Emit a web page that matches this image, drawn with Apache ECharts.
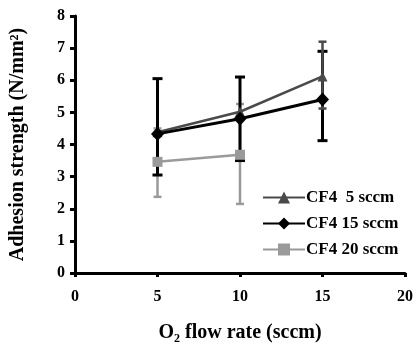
<!DOCTYPE html>
<html>
<head>
<meta charset="utf-8">
<script src="https://cdn.jsdelivr.net/npm/echarts@6/dist/echarts.min.js"></script>
<style>
  html, body { margin: 0; padding: 0; background: #fff; }
  #chart { width: 416px; height: 349px; }
</style>
</head>
<body>
<div id="chart"></div>
<script>
// O2 flow rate (sccm)
const flowRates = [5, 10, 15];
const xTicks = [0, 5, 10, 15, 20];
const yTicks = [0, 1, 2, 3, 4, 5, 6, 7, 8];

// Adhesion strength (N/mm^2) with error bar limits
const seriesNames = ['CF4  5 sccm', 'CF4 15 sccm', 'CF4 20 sccm'];
const cf4_5 = [4.38, 5.02, 6.12];
const cf4_5Low = [null, null, 5.12];
const cf4_5High = [null, null, 7.2];
const cf4_15 = [4.33, 4.8, 5.4];
const cf4_15Low = [3.05, 3.5, 4.12];
const cf4_15High = [6.05, 6.1, 6.9];
const cf4_20 = [3.46, 3.68];
const cf4_20Low = [2.37, 2.15];
const cf4_20High = [4.5, 5.26];

const colors = ['#4a4a4a', '#000000', '#9a9a9a'];
const font = '"Liberation Serif", "Times New Roman", serif';

function pairs(vals) {
  return vals.map((v, i) => [flowRates[i], v]);
}
function errData(low, high) {
  const out = [];
  low.forEach((l, i) => {
    if (l != null && high[i] != null) out.push([flowRates[i], l, high[i]]);
  });
  return out;
}
function errorSeries(low, high, color, width, capHalf, z) {
  return {
    type: 'custom',
    data: errData(low, high),
    z: z,
    silent: true,
    renderItem: function (params, api) {
      const x = api.value(0);
      const lo = api.coord([x, api.value(1)]);
      const hi = api.coord([x, api.value(2)]);
      const style = { stroke: color, lineWidth: width, fill: null };
      return {
        type: 'group',
        children: [
          { type: 'line', shape: { x1: lo[0], y1: lo[1], x2: hi[0], y2: hi[1] }, style: style },
          { type: 'line', shape: { x1: lo[0] - capHalf, y1: lo[1], x2: lo[0] + capHalf, y2: lo[1] }, style: style },
          { type: 'line', shape: { x1: hi[0] - capHalf, y1: hi[1], x2: hi[0] + capHalf, y2: hi[1] }, style: style }
        ]
      };
    }
  };
}

const chart = echarts.init(document.getElementById('chart'));
chart.setOption({
  animation: false,
  backgroundColor: '#ffffff',
  grid: { left: 72, right: 9, top: 16, bottom: 76, containLabel: false },
  xAxis: {
    type: 'value',
    min: xTicks[0], max: xTicks[xTicks.length - 1], interval: 5,
    axisLine: { lineStyle: { color: '#000', width: 3 } },
    axisTick: { show: true, length: 4, lineStyle: { color: '#000', width: 3 } },
    splitLine: { show: false },
    axisLabel: { color: '#000', fontFamily: font, fontWeight: 'bold', fontSize: 16, margin: 16 },
    name: 'O\u2082 flow rate (sccm)',
    nameLocation: 'middle',
    nameGap: 50,
    nameTextStyle: { color: '#000', fontFamily: font, fontWeight: 'bold', fontSize: 20 }
  },
  yAxis: {
    type: 'value',
    min: yTicks[0], max: yTicks[yTicks.length - 1], interval: 1,
    axisLine: { show: true, lineStyle: { color: '#000', width: 3 } },
    axisTick: { show: true, length: 5, lineStyle: { color: '#000', width: 3 } },
    splitLine: { show: false },
    axisLabel: { color: '#000', fontFamily: font, fontWeight: 'bold', fontSize: 16, margin: 10 },
    name: 'Adhesion strength (N/mm\u00B2)',
    nameLocation: 'middle',
    nameGap: 47,
    nameTextStyle: { color: '#000', fontFamily: font, fontWeight: 'bold', fontSize: 20 }
  },
  legend: {
    orient: 'vertical',
    left: 257, top: 184,
    itemWidth: 42, itemHeight: 15, itemGap: 9,
    textStyle: { color: '#000', fontFamily: font, fontWeight: 'bold', fontSize: 17, padding: [0, 0, 0, -4] },
    data: seriesNames
  },
  series: [
    errorSeries(cf4_20Low, cf4_20High, colors[2], 2.5, 4, 2),
    errorSeries(cf4_15Low, cf4_15High, colors[1], 3, 5, 3),
    errorSeries(cf4_5Low, cf4_5High, colors[0], 2.5, 4, 4),
    {
      name: seriesNames[2], type: 'line', data: pairs(cf4_20), z: 5,
      symbol: 'rect', symbolSize: 10,
      lineStyle: { color: colors[2], width: 2.5 },
      itemStyle: { color: colors[2] }
    },
    {
      name: seriesNames[0], type: 'line', data: pairs(cf4_5), z: 6,
      symbol: 'triangle', symbolSize: 10,
      lineStyle: { color: colors[0], width: 2.5 },
      itemStyle: { color: colors[0] }
    },
    {
      name: seriesNames[1], type: 'line', data: pairs(cf4_15), z: 7,
      symbol: 'diamond', symbolSize: [13, 14],
      lineStyle: { color: colors[1], width: 3 },
      itemStyle: { color: colors[1] }
    }
  ]
});
</script>
</body>
</html>
